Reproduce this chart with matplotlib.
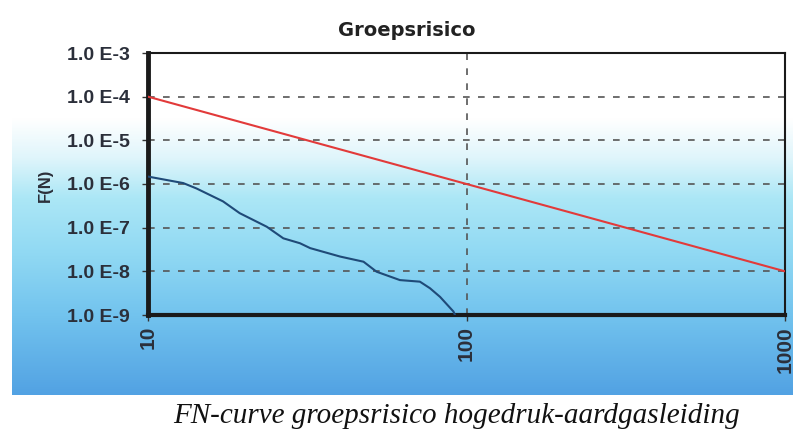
import numpy as np
from matplotlib import pyplot as plt
from matplotlib.colors import LinearSegmentedColormap

# norm line (Groepsrisico orientatiewaarde)
norm_n = [10, 1000]
norm_f = [1e-4, 1e-8]

# computed FN-curve
fn_n = [10, 12.9, 14.2, 17.2, 19.4, 23.6, 26.6, 30.0, 32.3, 40.1, 47.5,
        52.2, 61.8, 71.4, 76.8, 82.6, 91.0, 92.0]
fn_f = [1.48e-6, 1.05e-6, 7.9e-7, 4.0e-7, 2.15e-7, 1.05e-7, 5.7e-8, 4.4e-8,
        3.4e-8, 2.18e-8, 1.66e-8, 9.8e-9, 6.3e-9, 5.8e-9, 4.1e-9, 2.6e-9,
        1.2e-9, 1.0e-9]

y_ticks = [1e-3, 1e-4, 1e-5, 1e-6, 1e-7, 1e-8, 1e-9]
y_labels = ["1.0 E-3", "1.0 E-4", "1.0 E-5", "1.0 E-6", "1.0 E-7", "1.0 E-8", "1.0 E-9"]
x_ticks = [10, 100, 1000]
x_labels = ["10", "100", "1000"]

fig = plt.figure(figsize=(7.95, 4.29), dpi=100)

# gradient panel behind the chart
bg = fig.add_axes([12/795, 1-395/429, 781/795, 395/429], zorder=0)
cmap = LinearSegmentedColormap.from_list("panel", [
    (0.0, "#ffffff"), (0.30, "#ffffff"), (0.40, "#dff5fb"), (0.50, "#ace7f6"),
    (0.65, "#8fd8f3"), (0.80, "#72c3ee"), (1.0, "#52a2e3")])
grad = np.linspace(0, 1, 256).reshape(-1, 1)
bg.imshow(grad, aspect="auto", cmap=cmap, extent=[0, 1, 0, 1], origin="upper")
bg.axis("off")

ax = fig.add_axes([148/795, 1-315/429, 637/795, 262/429], zorder=1)
ax.patch.set_alpha(0)
ax.set_xscale("log")
ax.set_yscale("log")
ax.set_xlim(10, 1000)
ax.set_ylim(1e-9, 1e-3)

ax.plot(norm_n, norm_f, color="#e23a3a", lw=1.5, zorder=3)
ax.plot(fn_n, fn_f, color="#1f4a78", lw=1.5, zorder=3)

ax.set_yticks(y_ticks)
ax.set_yticklabels(y_labels)
ax.set_xticks(x_ticks)
ax.set_xticklabels(x_labels, rotation=90)
ax.minorticks_off()
ax.tick_params(axis="y", length=4, width=1, colors="#333333", labelsize=14, pad=9)
ax.tick_params(axis="x", length=4, width=1, colors="#333333", labelsize=15, pad=4)
for lab in ax.get_yticklabels() + ax.get_xticklabels():
    lab.set_fontfamily("Liberation Sans")
    lab.set_fontweight("bold")
    lab.set_color("#2b2f3a")

ax.grid(True, which="major", color="#555555", linestyle=(0, (4, 5)), lw=1.2)
ax.set_axisbelow(True)

ax.spines["left"].set_linewidth(3.5)
ax.spines["bottom"].set_linewidth(3)
ax.spines["top"].set_linewidth(1.5)
ax.spines["right"].set_linewidth(1.5)
for s in ax.spines.values():
    s.set_color("#1a1a1a")

fig.text(45/795, 1-185/429, "F(N)", rotation=90, ha="center", va="center",
         fontsize=12, fontweight="bold", family="Liberation Sans", color="#2b2f3a")
fig.text(407/795, 1-30/429, "Groepsrisico", ha="center", va="center",
         fontsize=14, fontweight="bold", family="DejaVu Sans", color="#222222")

fig.text(457/795, 1-416/429, "FN-curve groepsrisico hogedruk-aardgasleiding",
         ha="center", va="center", fontsize=21, style="italic",
         family="Liberation Serif", color="#111111")

fig.savefig("out.png", dpi=100)
